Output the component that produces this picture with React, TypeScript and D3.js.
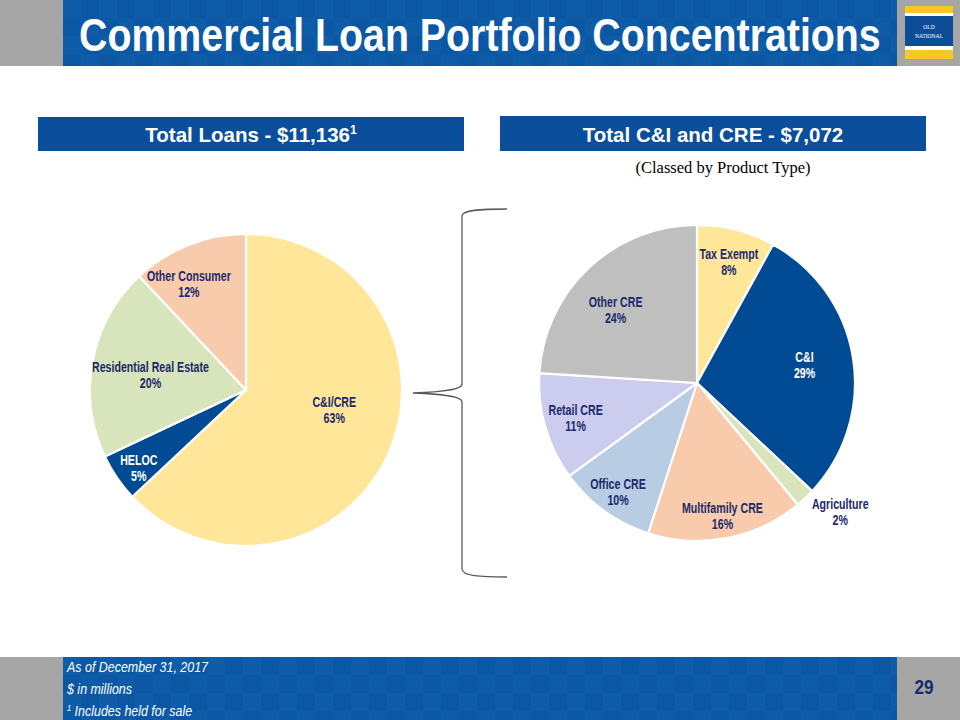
import React from "react";
import * as d3 from "d3";

// ---------- data ----------
const leftCategories = ["C&I/CRE", "HELOC", "Residential Real Estate", "Other Consumer"];
const leftValues = [63, 5, 20, 12];
const leftColors = ["#FFE699", "#004B93", "#D8E4BC", "#F8CBAD"];

const rightCategories = ["Tax Exempt", "C&I", "Agriculture", "Multifamily CRE", "Office CRE", "Retail CRE", "Other CRE"];
const rightValues = [8, 29, 2, 16, 10, 11, 24];
const rightColors = ["#FFE699", "#004B93", "#D8E4BC", "#F8CBAD", "#B8CCE4", "#CCCCEE", "#BFBFBF"];

// label placement (radius fraction, angle offset in degrees)
const leftLabelRadius = [0.58, 0.85, 0.62, 0.77];
const leftLabelOffset = [-10.7, -1.8, -1.8, -6.8];
const rightLabelRadius = [0.79, 0.69, 1.22, 0.86, 0.85, 0.8, 0.69];
const rightLabelOffset = [0.4, -0.5, -4.8, 0, 0, 0, -5.1];

const NAVY = "#1B2A6B";
const SANS = "'Liberation Sans', Arial, sans-serif";

type NTextProps = {
  x: number; y: number; children: React.ReactNode; size: number; anchor?: string;
  fill?: string; weight?: string; italic?: boolean; sx?: number;
};
function NText({ x, y, children, size, anchor = "start", fill = "#fff", weight = "normal", italic = false, sx = 0.82 }: NTextProps) {
  return (
    <g transform={`translate(${x},${y}) scale(${sx},1)`}>
      <text x={0} y={0} textAnchor={anchor} fontFamily={SANS} fontSize={size} fill={fill}
        fontWeight={weight} fontStyle={italic ? "italic" : "normal"}>{children}</text>
    </g>
  );
}

type PieProps = {
  cx: number; cy: number; r: number;
  cats: string[]; vals: number[]; colors: string[];
  lr: number[]; lo: number[];
};

function Pie({ cx, cy, r, cats, vals, colors, lr, lo }: PieProps) {
  const pie = d3.pie<number>().sort(null).value((d) => d).startAngle(0).endAngle(2 * Math.PI);
  const arcs = pie(vals);
  const arc = d3.arc<d3.PieArcDatum<number>>().innerRadius(0).outerRadius(r);
  return (
    <g transform={`translate(${cx},${cy})`}>
      {arcs.map((a, i) => (
        <path key={"s" + i} d={arc(a) || ""} fill={colors[i]} stroke="#fff" strokeWidth={2.2} strokeLinejoin="round" />
      ))}
      {arcs.map((a, i) => {
        const mid = (a.startAngle + a.endAngle) / 2 + (lo[i] * Math.PI) / 180;
        const rr = lr[i] * r;
        const x = Math.sin(mid) * rr;
        const y = -Math.cos(mid) * rr;
        const fill = colors[i] === "#004B93" ? "#FFFFFF" : NAVY;
        return (
          <g key={"l" + i}>
            <NText x={x} y={y - 3} size={14} sx={0.76} weight="bold" anchor="middle" fill={fill}>{cats[i]}</NText>
            <NText x={x} y={y + 13} size={14} sx={0.76} weight="bold" anchor="middle" fill={fill}>{`${vals[i]}%`}</NText>
          </g>
        );
      })}
    </g>
  );
}

function Checker({ x, y, w, h, id }: { x: number; y: number; w: number; h: number; id: string }) {
  return (
    <g>
      <defs>
        <pattern id={id} x={x} y={y} width={36} height={36} patternUnits="userSpaceOnUse">
          <rect width={36} height={36} fill="#0B57A3" />
          <rect width={18} height={18} fill="#0F5CA8" />
          <rect x={18} y={18} width={18} height={18} fill="#0E5BA7" />
        </pattern>
      </defs>
      <rect x={x} y={y} width={w} height={h} fill={`url(#${id})`} />
    </g>
  );
}

export default function App() {
  const leftX = 246, leftY = 390, leftR = 156;
  const rightX = 697, rightY = 383, rightR = 158;
  return (
    <svg width={960} height={720} viewBox="0 0 960 720"
      style={{ position: "absolute", left: 0, top: 0, display: "block", background: "#fff" }}>
      {/* header */}
      <rect x={0} y={0} width={960} height={66} fill="#A6A6A6" />
      <Checker x={63} y={0} w={834} h={66} id="chk1" />
      <NText x={79} y={51} size={46} sx={0.855} weight="bold">Commercial Loan Portfolio Concentrations</NText>
      {/* logo */}
      <rect x={905} y={6} width={48} height={7} fill="#F9C623" />
      <rect x={905} y={13} width={48} height={3} fill="#fff" />
      <rect x={905} y={16} width={48} height={30} fill="#0D4D97" />
      <rect x={905} y={46} width={48} height={4} fill="#fff" />
      <rect x={905} y={50} width={48} height={9} fill="#F9C623" />
      <text x={929} y={28.5} textAnchor="middle" fontFamily="'Liberation Serif', serif" fontSize={5.5} fill="#fff">OLD</text>
      <text x={929} y={38} textAnchor="middle" fontFamily="'Liberation Serif', serif" fontSize={5.5} fill="#fff">NATIONAL</text>

      {/* section headers */}
      <rect x={38} y={117} width={426} height={34} fill="#0B4F9C" />
      <text x={251} y={141.5} textAnchor="middle" fontFamily={SANS} fontWeight="bold" fontSize={20.5} fill="#fff">
        Total Loans - $11,136<tspan fontSize={12} dy={-8}>1</tspan>
      </text>
      <rect x={500} y={116} width={426} height={35} fill="#0B4F9C" />
      <text x={713} y={141.5} textAnchor="middle" fontFamily={SANS} fontWeight="bold" fontSize={20.5} fill="#fff">
        Total C&amp;I and CRE - $7,072
      </text>
      <text x={723} y={173} textAnchor="middle" fontFamily="'Liberation Serif', 'Times New Roman', serif" fontSize={16.5} fill="#000">
        (Classed by Product Type)
      </text>

      {/* pies */}
      <Pie cx={leftX} cy={leftY} r={leftR} cats={leftCategories} vals={leftValues} colors={leftColors}
        lr={leftLabelRadius} lo={leftLabelOffset} />
      <Pie cx={rightX} cy={rightY} r={rightR} cats={rightCategories} vals={rightValues} colors={rightColors}
        lr={rightLabelRadius} lo={rightLabelOffset} />

      {/* brace */}
      <path
        d="M507,209 C480,209 462,210 462,216 L462,384 C462,390 440,392 413,393 C440,394 462,396 462,402 L462,569 C462,576 480,577 507,577"
        fill="none" stroke="#595959" strokeWidth={1.3} />

      {/* footer */}
      <rect x={0} y={657} width={960} height={63} fill="#A6A6A6" />
      <Checker x={63} y={657} w={834} h={63} id="chk2" />
      <NText x={67} y={672} size={15} sx={0.83} italic>As of December 31, 2017</NText>
      <NText x={67} y={694} size={15} sx={0.83} italic>$ in millions</NText>
      <NText x={67} y={716} size={15} sx={0.83} italic>
        <tspan fontSize={9} dy={-5}>1</tspan><tspan dy={5}> Includes held for sale</tspan>
      </NText>
      <NText x={924} y={694} size={21} weight="bold" anchor="middle" fill="#1B2A6B">29</NText>
    </svg>
  );
}
